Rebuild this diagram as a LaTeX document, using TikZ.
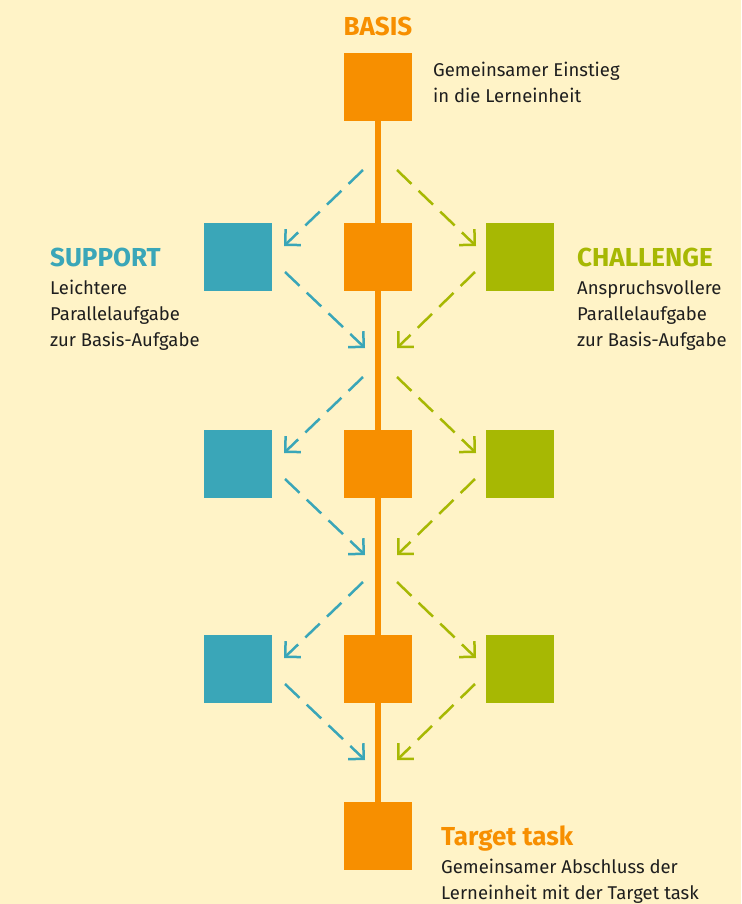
\documentclass[tikz,border=0pt]{standalone}
\usepackage{fontspec}
\setmainfont{Fira Sans}
\usetikzlibrary{arrows.meta}
\usetikzlibrary{calc}

\definecolor{cream}{HTML}{FFF3C7}
\definecolor{basisorange}{HTML}{F78F00}
\definecolor{supportblue}{HTML}{3AA6B8}
\definecolor{challgreen}{HTML}{A7B803}
\definecolor{bodytext}{HTML}{1E1E1E}

\begin{document}
\begin{tikzpicture}[x=1pt,y=-1pt,
  box/.style={minimum size=68pt,inner sep=0pt},
  headline/.style={font=\fontsize{26}{28}\selectfont\bfseries,inner sep=0pt,anchor=base west},
  desc/.style={font=\fontsize{18.5}{26}\selectfont,text=bodytext,align=left,inner sep=0pt,anchor=base west},
  dasharrow/.style={line width=2.5pt,dash pattern=on 20pt off 10pt,-{Straight Barb[length=11pt,width=22pt]}}]
 \useasboundingbox (0,0) rectangle (741,904);
 \fill[cream](0,0) rectangle (741,904);
 % main line
 \node[box,fill=basisorange] (o0) at (378,87) {};
 \node[box,fill=basisorange] (o4) at (378,836) {};
 \draw[basisorange,line width=6pt](o0)--(o4);
 % rows with parallel tasks
 \foreach \i/\y in {1/257,2/464,3/669}{
  \node[box,fill=basisorange] (o\i) at (378,\y) {};
  \node[box,fill=supportblue] (b\i) at (238,\y) {};
  \node[box,fill=challgreen] (g\i) at (520,\y) {};
  \draw[dasharrow,supportblue]($(o\i)+(-15,-87)$)--($(b\i)+(46,-11)$);
  \draw[dasharrow,supportblue]($(b\i)+(47,15)$)--($(o\i)+(-13,91)$);
  \draw[dasharrow,challgreen]($(o\i)+(19,-87)$)--($(g\i)+(-44,-11)$);
  \draw[dasharrow,challgreen]($(g\i)+(-45,15)$)--($(o\i)+(19,91)$);
 }
 % labels (desc nodes sit on their last baseline)
 \node[headline,text=basisorange,anchor=base] (basis) at (378,36) {BASIS};
 \node[desc] (basisd) at (433,103) {Gemeinsamer Einstieg\\in die Lerneinheit};
 \node[headline,text=supportblue] (sup) at (50,266) {SUPPORT};
 \node[desc] (supd) at (50,346) {Leichtere\\Parallelaufgabe\\zur Basis-Aufgabe};
 \node[headline,text=challgreen] (chal) at (577,266) {CHALLENGE};
 \node[desc] (chald) at (577,346) {Anspruchsvollere\\Parallelaufgabe\\zur Basis-Aufgabe};
 \node[headline,text=basisorange] (target) at (441,845) {Target task};
 \node[desc] (targetd) at (441,899) {Gemeinsamer Abschluss der\\Lerneinheit mit der Target task};
\end{tikzpicture}
\end{document}
